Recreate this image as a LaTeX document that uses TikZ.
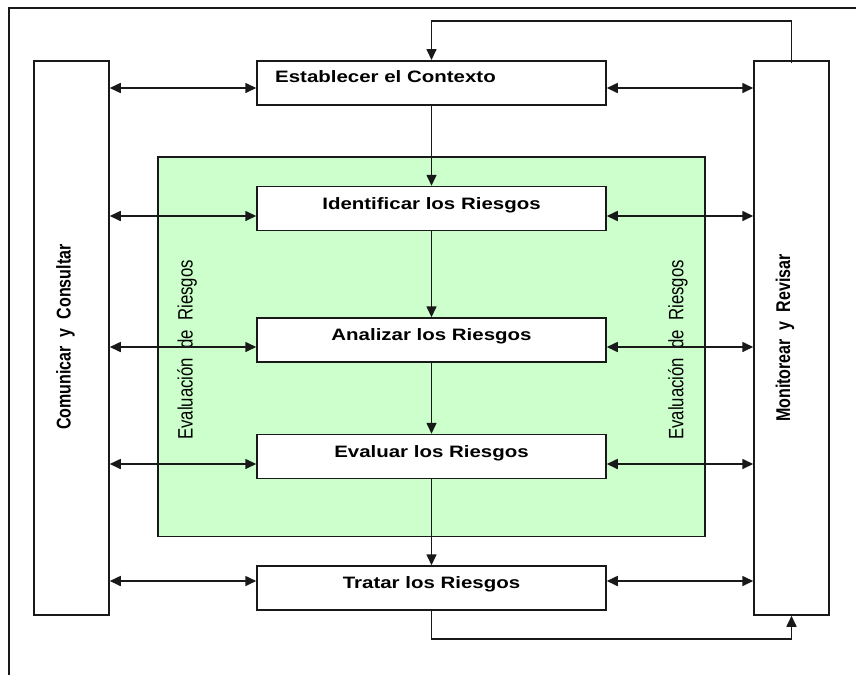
\documentclass[tikz,border=0pt]{standalone}
\usepackage{fontspec}
\usetikzlibrary{arrows.meta}
% wide face for the step labels, narrow face for the upright side labels
\newfontfamily\widesans[FakeStretch=1.24]{Liberation Sans}
\newfontfamily\narrowsans[FakeStretch=0.806]{Liberation Sans}
\definecolor{evalgreen}{RGB}{204,255,204}
\definecolor{ink}{RGB}{25,25,25}
\tikzset{
  box/.style={draw=ink, line width=1.5pt, fill=white, inner sep=0pt},
  steptext/.style={font=\widesans\bfseries\fontsize{16.5}{20}\selectfont, inner sep=0pt, anchor=base},
  sidetext/.style={font=\narrowsans\bfseries\fontsize{19.9}{24}\selectfont, inner sep=0pt, rotate=90, anchor=base west},
  evaltext/.style={font=\narrowsans\fontsize{20.8}{24}\selectfont, inner sep=0pt, rotate=90, anchor=base west},
  tip/.tip={Triangle[length=11pt,width=10pt]},
  link/.style={draw=ink, line width=1.6pt, -tip},
  duplex/.style={draw=ink, line width=1.6pt, tip-tip}
}
\begin{document}
\begin{tikzpicture}[x=1pt,y=-1pt]
\useasboundingbox (0,0) rectangle (856,675);
\fill[white] (0,0) rectangle (856,675);

% open frame: top and left edges
\draw[draw=ink, line width=1.5pt] (856,8) -- (9,8) -- (9,675);

% risk evaluation zone
\node[box, fill=evalgreen, minimum width=547pt, minimum height=379.5pt] (zone) at (431.5,346.75) {};

% side columns
\node[box, minimum width=75pt, minimum height=554pt] (cc) at (71.5,338) {};
\node[box, minimum width=75pt, minimum height=554pt] (mon) at (791.5,338) {};

% process steps
\node[box, minimum width=349pt, minimum height=44pt] (est) at (431.5,82.75) {};
\node[box, minimum width=349pt, minimum height=44pt] (ide) at (431.5,208.5) {};
\node[box, minimum width=349pt, minimum height=44pt] (ana) at (431.5,340) {};
\node[box, minimum width=349pt, minimum height=44pt] (eva) at (431.5,456.5) {};
\node[box, minimum width=349pt, minimum height=44pt] (tra) at (431.5,588) {};

% step labels
\node[steptext, anchor=base west] (est-t) at (275,82.7) {Establecer el Contexto};
\node[steptext] (ide-t) at (431.5,209.3) {Identificar los Riesgos};
\node[steptext] (ana-t) at (431.5,340) {Analizar los Riesgos};
\node[steptext] (eva-t) at (431.5,457) {Evaluar los Riesgos};
\node[steptext] (tra-t) at (431.5,588.3) {Tratar los Riesgos};

% upright labels
\node[sidetext] (cc-t) at (70.5,430) {Comunicar\ \ y\ \ Consultar};
\node[sidetext] (mon-t) at (790,422) {Monitorear\ \ y\ \ Revisar};
\node[evaltext] (ev-l) at (192.7,440) {Evaluación\ \ de\ \ Riesgos};
\node[evaltext] (ev-r) at (683.3,440) {Evaluación\ \ de\ \ Riesgos};

% main flow
\draw[link] (est.south) -- (ide.north);
\draw[link] (ide.south) -- (ana.north);
\draw[link] (ana.south) -- (eva.north);
\draw[link] (eva.south) -- (tra.north);

% feedback loops
\coordinate (loop-top) at (0,21);
\coordinate (loop-bot) at (0,639);
\draw[link] ([yshift=-3pt]mon.north) |- (loop-top -| est.north) -- (est.north);
\draw[link] (tra.south) |- (loop-bot -| mon.south) -- (mon.south);

% exchanges with the side columns
\foreach \s/\yy in {est/88, ide/216, ana/347, eva/464, tra/581}{
  \coordinate (row-\s) at (0,\yy);
  \draw[duplex] (cc.east |- row-\s) -- (\s.west |- row-\s);
  \draw[duplex] (\s.east |- row-\s) -- (mon.west |- row-\s);
}
\end{tikzpicture}
\end{document}
